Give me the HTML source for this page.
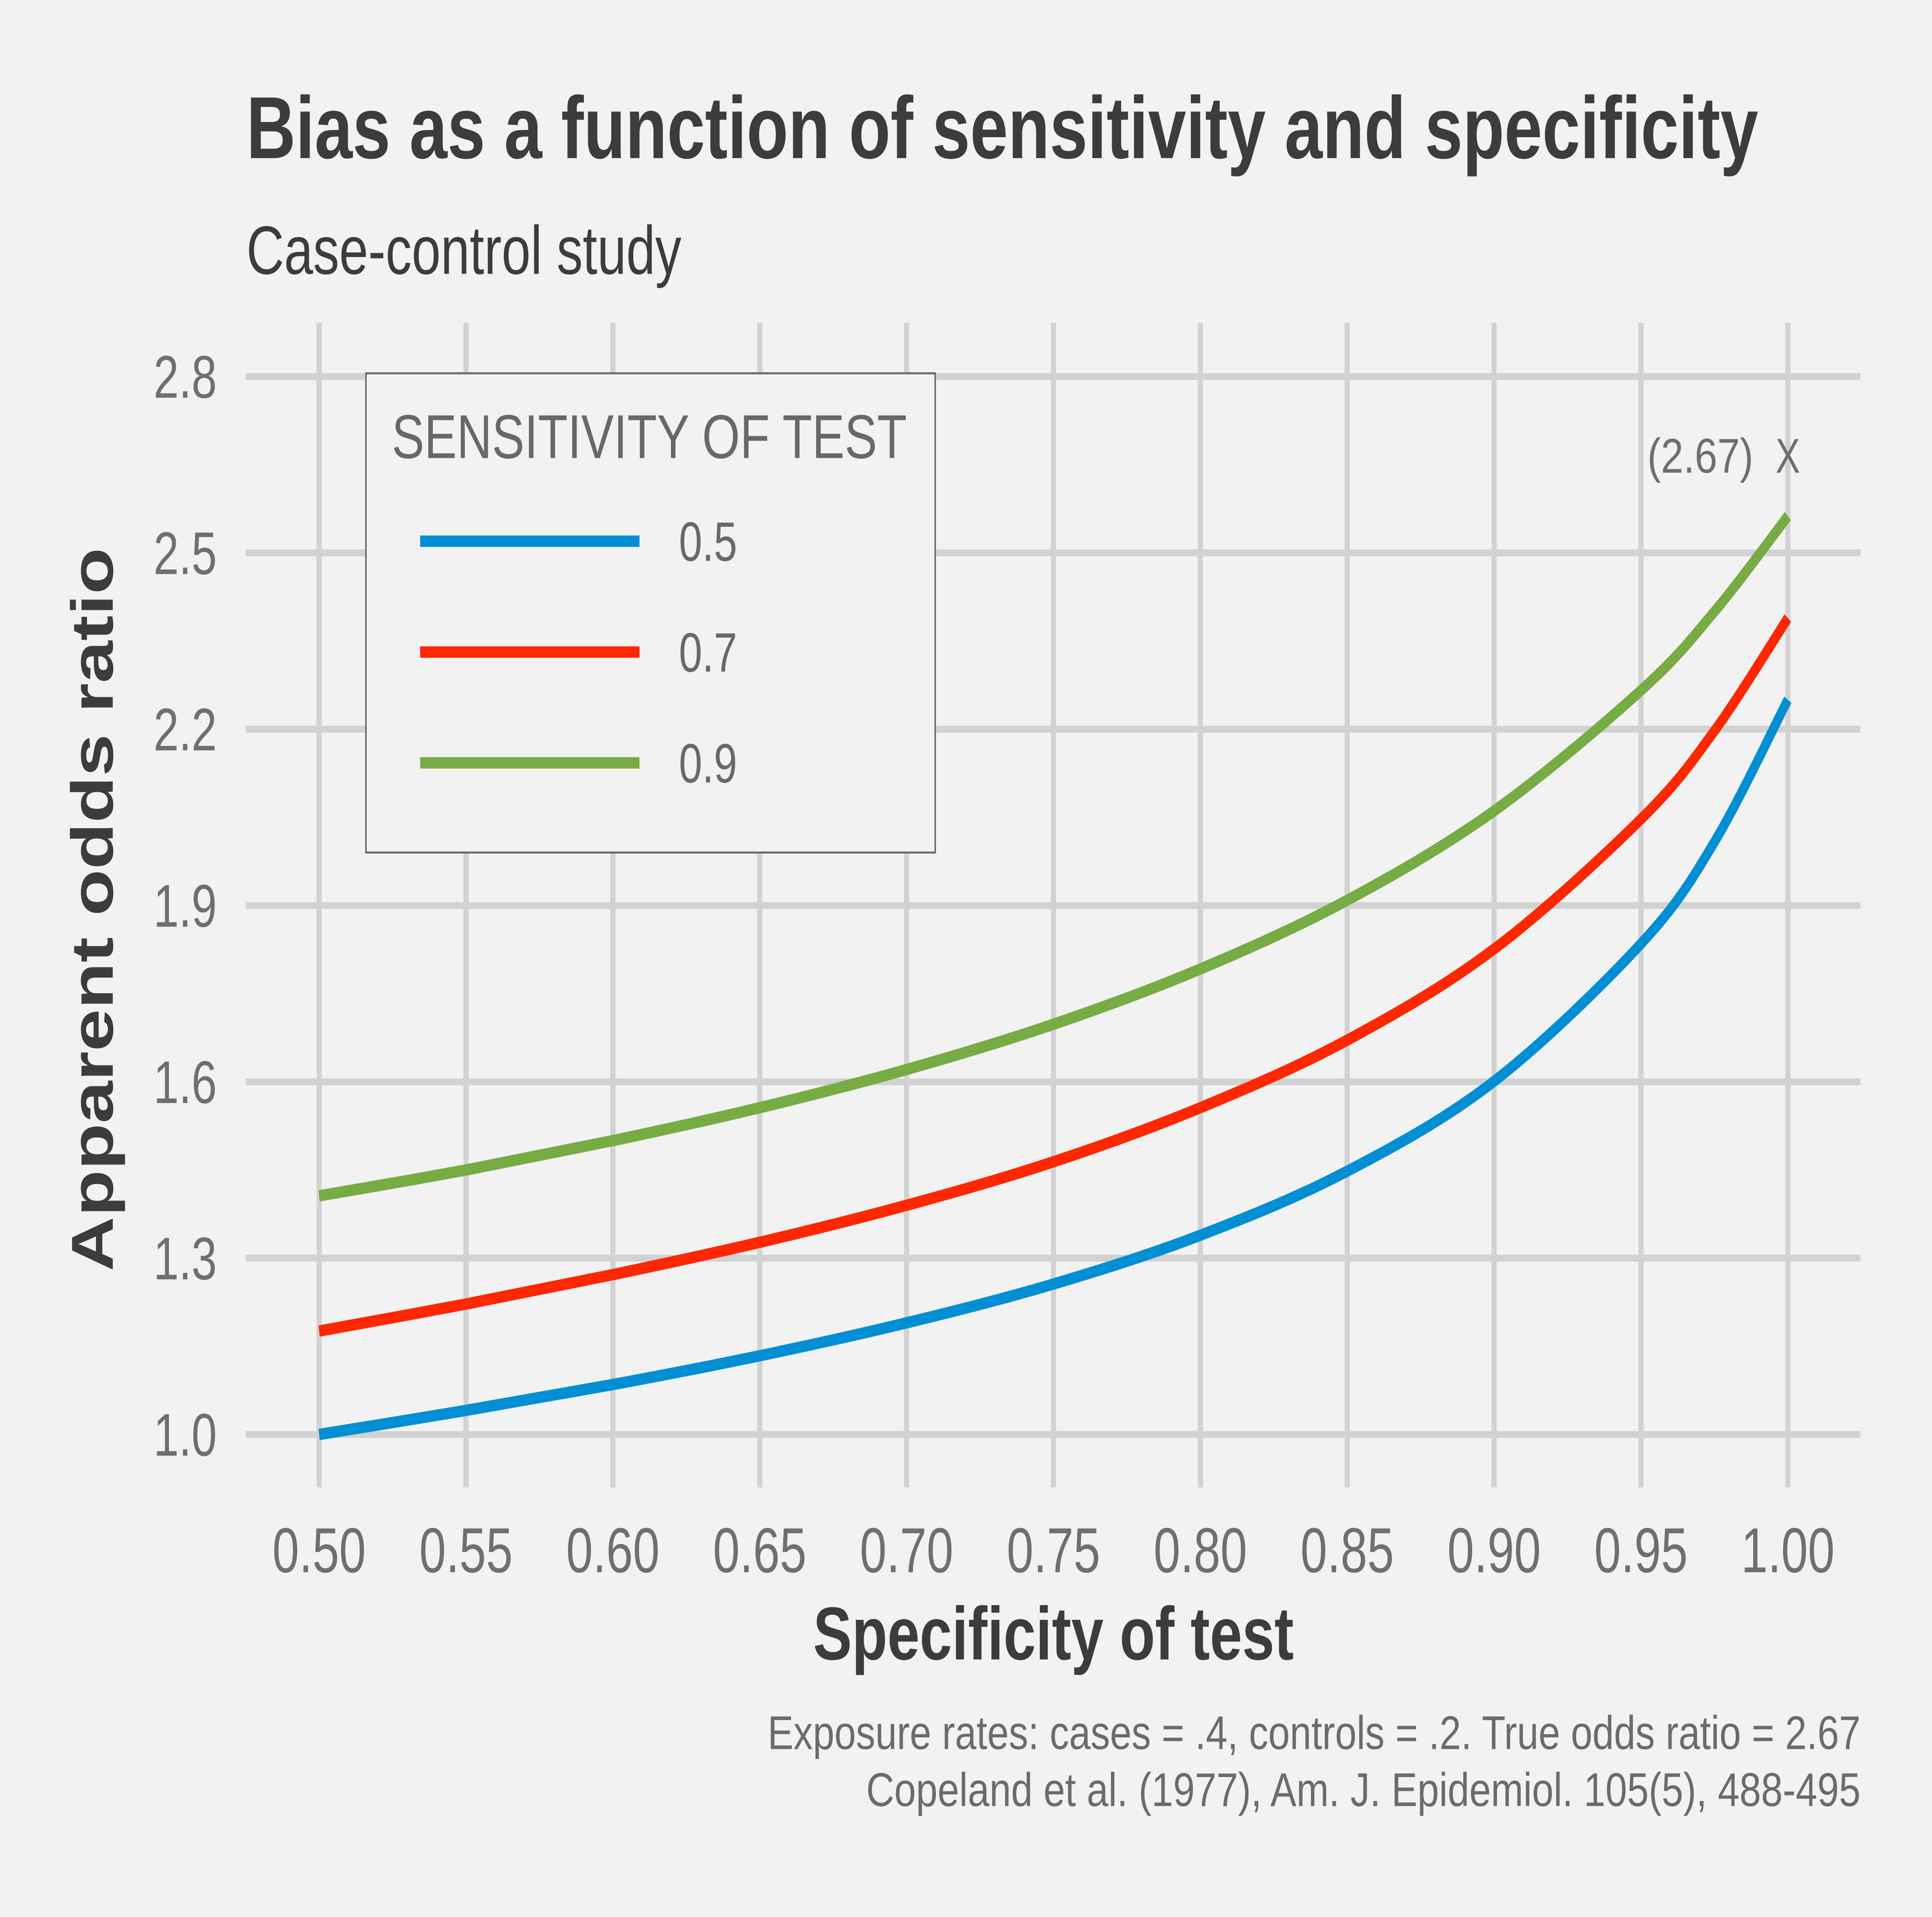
<!DOCTYPE html>
<html><head><meta charset="utf-8"><style>
html,body{margin:0;padding:0;background:#f2f2f2;width:100%;height:100%;overflow:hidden;}
svg{display:block;width:100vw;height:100vh;}
text{font-family:"Liberation Sans",Arial,sans-serif;}
</style></head><body>
<svg id="chart" xmlns="http://www.w3.org/2000/svg" viewBox="0 0 1568 1176" preserveAspectRatio="none">
<rect x="0" y="0" width="1568" height="1176" fill="#f2f2f2"/>
<text x="200" y="97" font-size="54" font-weight="bold" fill="#3c3c3c" textLength="1227" lengthAdjust="spacingAndGlyphs">Bias as a function of sensitivity and specificity</text>
<text x="200" y="168" font-size="42" fill="#3c3c3c" textLength="353" lengthAdjust="spacingAndGlyphs">Case-control study</text>
<g id="grid"></g>
<g id="yticks"></g>
<g id="xticks"></g>
<g id="series"></g>
<text transform="translate(91.5,558) rotate(-90)" text-anchor="middle" font-size="48" font-weight="bold" fill="#3c3c3c" textLength="444" lengthAdjust="spacingAndGlyphs">Apparent odds ratio</text>
<text x="855" y="1018" text-anchor="middle" font-size="46" font-weight="bold" fill="#3c3c3c" textLength="390" lengthAdjust="spacingAndGlyphs">Specificity of test</text>
<text x="1510" y="1073" text-anchor="end" font-size="29" fill="#6b6b6b" textLength="887" lengthAdjust="spacingAndGlyphs">Exposure rates: cases = .4, controls = .2. True odds ratio = 2.67</text>
<text x="1510" y="1108" text-anchor="end" font-size="29" fill="#6b6b6b" textLength="807" lengthAdjust="spacingAndGlyphs">Copeland et al. (1977), Am. J. Epidemiol. 105(5), 488-495</text>
<g>
<rect x="297" y="229" width="462" height="294" fill="#f2f2f2" stroke="#666" stroke-width="1.2"/>
<text x="318" y="281" font-size="38" fill="#686868" textLength="418" lengthAdjust="spacingAndGlyphs">SENSITIVITY OF TEST</text>
<g id="legend-entries"></g>
</g>
<text x="1380" y="290" text-anchor="middle" font-size="30" fill="#6f6f6f" textLength="86" lengthAdjust="spacingAndGlyphs">(2.67)</text>
<text x="1451" y="290" text-anchor="middle" font-size="30" fill="#6f6f6f">X</text>
</svg>
<script>
const specificity = [0.50,0.55,0.60,0.65,0.70,0.75,0.80,0.85,0.90,0.95,0.975,1.00];
const sens05 = [1.000,1.041,1.085,1.134,1.190,1.256,1.339,1.448,1.601,1.835,2.008,2.250];
const sens07 = [1.176,1.222,1.272,1.327,1.390,1.464,1.556,1.671,1.826,2.047,2.197,2.389];
const sens09 = [1.406,1.450,1.500,1.556,1.621,1.698,1.792,1.909,2.061,2.266,2.400,2.5625];
const seriesNames = ["0.5","0.7","0.9"];
const xTicks = [0.50,0.55,0.60,0.65,0.70,0.75,0.80,0.85,0.90,0.95,1.00];
const xTickLabels = ["0.50","0.55","0.60","0.65","0.70","0.75","0.80","0.85","0.90","0.95","1.00"];
const yTicks = [1.0,1.3,1.6,1.9,2.2,2.5,2.8];
const yTickLabels = ["1.0","1.3","1.6","1.9","2.2","2.5","2.8"];

const NS="http://www.w3.org/2000/svg";
function xs(v){return 259+(v-0.5)/0.5*(1451-259);}
function ys(v){return 880-(v-1.0)/1.8*(880-231);}
function mk(tag,attrs,parent){const e=document.createElementNS(NS,tag);for(const k in attrs)e.setAttribute(k,attrs[k]);parent.appendChild(e);return e;}
const grid=document.getElementById('grid');
xTicks.forEach((t,i)=>{
  const l=mk('line',{x1:xs(t),x2:xs(t),y1:198,y2:912.5,stroke:'#d2d2d2','stroke-width':4.2},grid);
  
  
  const tx=mk('text',{x:xs(t),y:964.5,'text-anchor':'middle','font-size':39,fill:'#6f6f6f'},document.getElementById('xticks'));
  
  
  tx.textContent=xTickLabels[i];
});
yTicks.forEach((t,i)=>{
  const l=mk('line',{x1:199.5,x2:1510,y1:ys(t),y2:ys(t),stroke:'#d2d2d2','stroke-width':4.2},grid);
  
  
  const tx=mk('text',{x:176,y:ys(t)+13,'text-anchor':'end','font-size':37,fill:'#6f6f6f'},document.getElementById('yticks'));
  
  
  tx.textContent=yTickLabels[i];
});
function smoothPath(pts){
  let d='M'+pts[0][0].toFixed(2)+','+pts[0][1].toFixed(2);
  for(let i=0;i<pts.length-1;i++){
    const p0=pts[Math.max(i-1,0)],p1=pts[i],p2=pts[i+1],p3=pts[Math.min(i+2,pts.length-1)];
    const c1x=p1[0]+(p2[0]-p0[0])/6,c1y=p1[1]+(p2[1]-p0[1])/6;
    const c2x=p2[0]-(p3[0]-p1[0])/6,c2y=p2[1]-(p3[1]-p1[1])/6;
    d+=' C'+c1x.toFixed(2)+','+c1y.toFixed(2)+' '+c2x.toFixed(2)+','+c2y.toFixed(2)+' '+p2[0].toFixed(2)+','+p2[1].toFixed(2);
  }
  return d;
}
const allSeries=[sens05,sens07,sens09];
const colors=["#008fd5","#ff2700","#77ab43"];
const sg=document.getElementById('series');
allSeries.forEach((vals,si)=>{
  const pts=vals.map((v,i)=>[xs(specificity[i]),ys(v)]);
  const p=mk('path',{d:smoothPath(pts),fill:'none',stroke:colors[si],'stroke-width':7,'stroke-linejoin':'round'},sg);
  
  
});
const lg=document.getElementById('legend-entries');
seriesNames.forEach((n,i)=>{
  const y=332+i*68;
  const l=mk('line',{x1:341,x2:519,y1:y,y2:y,stroke:colors[i],'stroke-width':7},lg);
  
  
  const t=mk('text',{x:551,y:y+12,'font-size':34,fill:'#686868'},lg);
  
  
  t.textContent=n;
});
</script>
</body></html>
